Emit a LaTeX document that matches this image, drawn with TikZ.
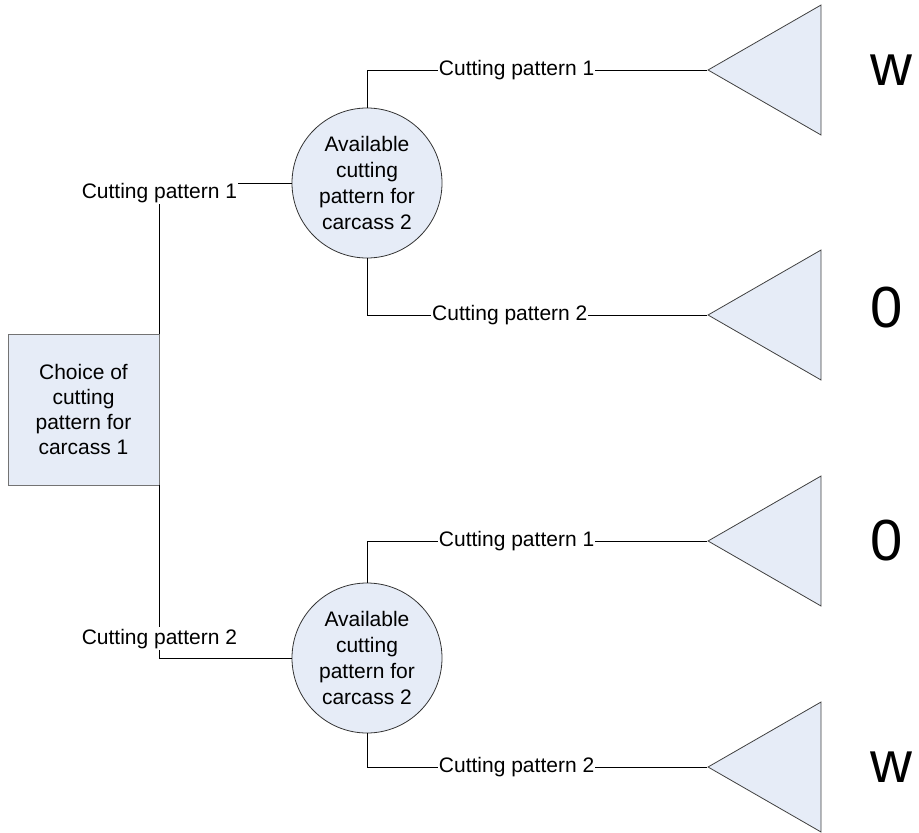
\documentclass[tikz,border=0pt]{standalone}
\usepackage{fontspec}
\setmainfont{Liberation Sans}
\usetikzlibrary{shapes.geometric}
\definecolor{nodefill}{RGB}{230,236,247}

\begin{document}
\begin{tikzpicture}[x=1pt,y=-1pt,line width=0.8pt,
    decision/.style={draw=black!55,fill=nodefill,minimum width=151pt,minimum height=151pt,inner sep=0pt,align=center,font=\fontsize{21}{25}\selectfont},
    chance/.style={circle,draw=black!80,fill=nodefill,minimum size=150pt,inner sep=0pt,align=center,font=\fontsize{21}{25.7}\selectfont},
    endpoint/.style={isosceles triangle,isosceles triangle stretches,shape border rotate=180,minimum height=113pt,minimum width=130pt,inner sep=0pt,draw=black!75,fill=nodefill},
    branch/.style={fill=white,inner xsep=1pt,inner ysep=2pt,font=\fontsize{21}{25}\selectfont},
    payoff/.style={anchor=west,inner sep=0pt,font=\fontsize{58}{60}\selectfont}]
    \useasboundingbox (0,0) rectangle (919,833);
    % decision node and the two chance nodes
    \node[decision] (box) at (83.5,409.5) {Choice of\\cutting\\pattern for\\carcass 1};
    \node[chance] (c1) at (367,183) {Available\\cutting\\pattern for\\carcass 2};
    \node[chance] (c2) at (367,658) {Available\\cutting\\pattern for\\carcass 2};
    % end points
    \node[endpoint,anchor=apex] (t1) at (707,70) {};
    \node[endpoint,anchor=apex] (t2) at (707,315) {};
    \node[endpoint,anchor=apex] (t3) at (707,541) {};
    \node[endpoint,anchor=apex] (t4) at (707,767) {};
    \node[payoff] (v1) at (870,70) {w};
    \node[payoff] (v2) at (870,308) {0};
    \node[payoff] (v3) at (870,541) {0};
    \node[payoff] (v4) at (870,767) {w};
    % branches
    \draw (box.north east) |- node[branch,pos=0.5,anchor=base,yshift=-15pt]{Cutting pattern 1} (c1.west);
    \draw (box.south east) |- node[branch,pos=0.5,anchor=base,yshift=14pt]{Cutting pattern 2} (c2.west);
    \draw (c1.north) |- node[branch,pos=0.72]{Cutting pattern 1} (t1.apex);
    \draw (c1.south) |- node[branch,pos=0.71]{Cutting pattern 2} (t2.apex);
    \draw (c2.north) |- node[branch,pos=0.72]{Cutting pattern 1} (t3.apex);
    \draw (c2.south) |- node[branch,pos=0.72]{Cutting pattern 2} (t4.apex);
\end{tikzpicture}
\end{document}
